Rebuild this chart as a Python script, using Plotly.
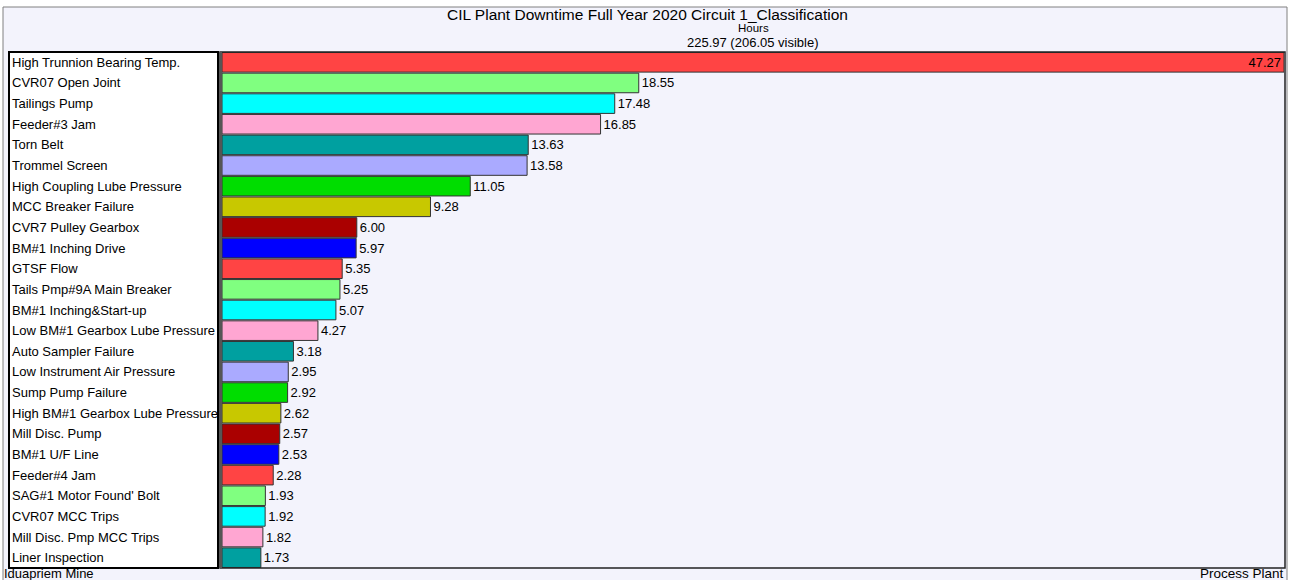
import plotly.graph_objects as go

categories = [
    "High Trunnion Bearing Temp.", "CVR07 Open Joint", "Tailings Pump", "Feeder#3 Jam",
    "Torn Belt", "Trommel Screen", "High Coupling Lube Pressure", "MCC Breaker Failure",
    "CVR7 Pulley Gearbox", "BM#1 Inching Drive", "GTSF Flow", "Tails Pmp#9A Main Breaker",
    "BM#1 Inching&Start-up", "Low BM#1 Gearbox Lube Pressure", "Auto Sampler Failure",
    "Low Instrument Air Pressure", "Sump Pump Failure", "High BM#1 Gearbox Lube Pressure",
    "Mill Disc. Pump", "BM#1 U/F Line", "Feeder#4 Jam", "SAG#1 Motor Found' Bolt",
    "CVR07 MCC Trips", "Mill Disc. Pmp MCC Trips", "Liner Inspection",
]
hours = [
    47.27, 18.55, 17.48, 16.85, 13.63, 13.58, 11.05, 9.28, 6.00, 5.97, 5.35, 5.25, 5.07,
    4.27, 3.18, 2.95, 2.92, 2.62, 2.57, 2.53, 2.28, 1.93, 1.92, 1.82, 1.73,
]
palette = ["#FF4444", "#80FF80", "#00FFFF", "#FFA6D2", "#00A0A0",
           "#AAAAFF", "#00DD00", "#C8C800", "#AA0000", "#0000FF"]

title = "CIL Plant Downtime Full Year 2020 Circuit 1_Classification"
subtitle = "Hours"
total_text = "225.97 (206.05 visible)"
footer_left = "Iduapriem Mine"
footer_right = "Process Plant"

W, H = 1294, 580
FONT = "Liberation Sans, Arial, sans-serif"


def px_x(x):
    return x / W


def px_y(y):
    return 1 - y / H


PLOT_L, PLOT_R, PLOT_T, PLOT_B = 222, 1284, 52, 568

colors = [palette[i % len(palette)] for i in range(len(hours))]
positions = ["inside" if v == max(hours) else "outside" for v in hours]

fig = go.Figure(go.Bar(
    x=hours,
    y=categories,
    orientation="h",
    marker=dict(color=colors, line=dict(color="#333333", width=1)),
    text=[f"{v:.2f}" for v in hours],
    textposition=positions,
    insidetextanchor="end",
    constraintext="none",
    textfont=dict(family=FONT, size=13, color="#000000"),
    cliponaxis=False,
    hoverinfo="skip",
))

shapes = [
    # outer frame (bottom edge pushed off-canvas)
    dict(type="rect", xref="paper", yref="paper",
         x0=px_x(3), x1=px_x(1287), y0=px_y(590), y1=px_y(7),
         fillcolor="#F3F3FC", line=dict(color="#808080", width=1), layer="below"),
    # category label box
    dict(type="rect", xref="paper", yref="paper",
         x0=px_x(9), x1=px_x(218), y0=px_y(PLOT_B), y1=px_y(PLOT_T),
         fillcolor="#FFFFFF", line=dict(color="#000000", width=2), layer="below"),
    # plot area border
    dict(type="rect", xref="paper", yref="paper",
         x0=px_x(220), x1=px_x(PLOT_R + 1), y0=px_y(PLOT_B), y1=px_y(PLOT_T),
         fillcolor="rgba(0,0,0,0)", line=dict(color="#222222", width=1.5), layer="above"),
    # axis line next to the bars
    dict(type="line", xref="paper", yref="paper",
         x0=px_x(220.5), x1=px_x(220.5), y0=px_y(PLOT_B), y1=px_y(PLOT_T),
         line=dict(color="#555555", width=3)),
]

annotations = [
    dict(text=title, x=px_x(647), y=px_y(15), xref="paper", yref="paper",
         showarrow=False, font=dict(family=FONT, size=15.5, color="#000000"),
         xanchor="center", yanchor="middle"),
    dict(text=subtitle, x=px_x(753), y=px_y(28), xref="paper", yref="paper",
         showarrow=False, font=dict(family=FONT, size=11.5, color="#000000"),
         xanchor="center", yanchor="middle"),
    dict(text=total_text, x=px_x(753), y=px_y(42), xref="paper", yref="paper",
         showarrow=False, font=dict(family=FONT, size=13, color="#000000"),
         xanchor="center", yanchor="middle"),
    dict(text=footer_left, x=px_x(2), y=px_y(573.5), xref="paper", yref="paper",
         showarrow=False, font=dict(family=FONT, size=13, color="#000000"),
         xanchor="left", yanchor="middle"),
    dict(text=footer_right, x=px_x(1286), y=px_y(573.5), xref="paper", yref="paper",
         showarrow=False, font=dict(family=FONT, size=13.5, color="#000000"),
         xanchor="right", yanchor="middle"),
]
for cat in categories:
    annotations.append(dict(text=cat, x=px_x(10), y=cat, xref="paper", yref="y",
                            showarrow=False, xanchor="left", yanchor="middle",
                            font=dict(family=FONT, size=13, color="#000000")))

fig.update_layout(
    width=W, height=H,
    margin=dict(l=0, r=0, t=0, b=0),
    paper_bgcolor="#FFFFFF",
    plot_bgcolor="rgba(0,0,0,0)",
    showlegend=False,
    bargap=0.05,
    shapes=shapes,
    annotations=annotations,
    xaxis=dict(domain=[px_x(PLOT_L), px_x(PLOT_R)], range=[0, max(hours)],
               showgrid=False, zeroline=False, showticklabels=False, ticks="",
               fixedrange=True),
    yaxis=dict(domain=[px_y(PLOT_B), px_y(PLOT_T)], autorange="reversed",
               categoryorder="array", categoryarray=categories,
               showgrid=False, zeroline=False, showticklabels=False, ticks="",
               fixedrange=True),
)

fig.write_html("out.html")
